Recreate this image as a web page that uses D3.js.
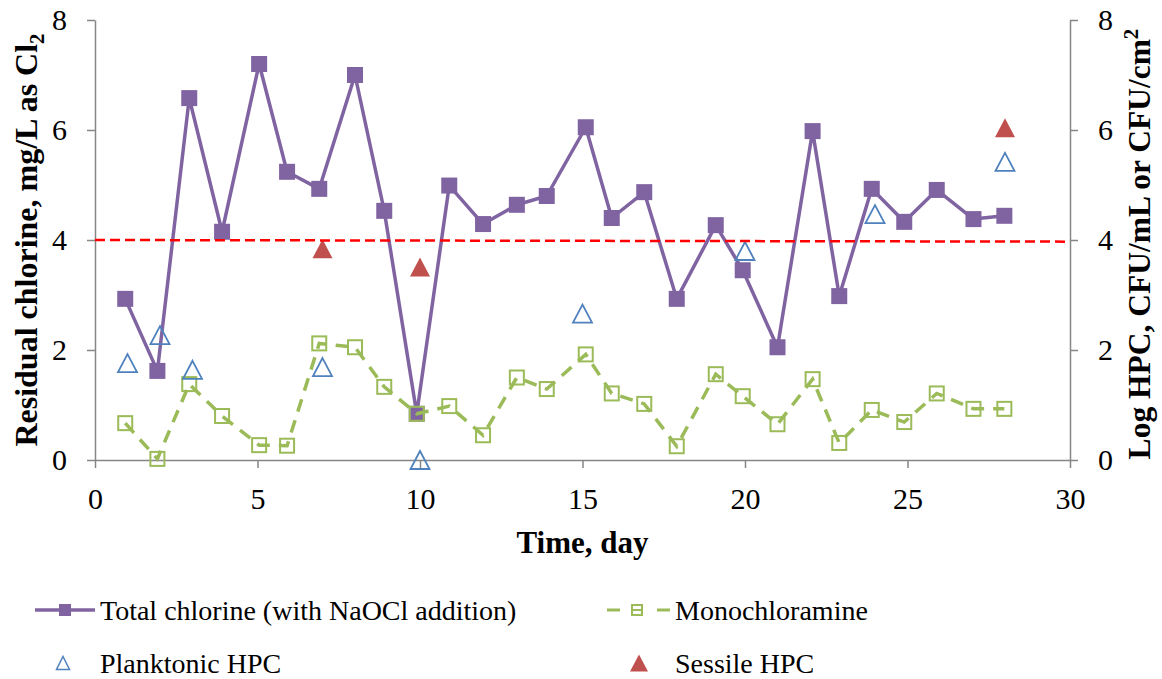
<!DOCTYPE html>
<html>
<head>
<meta charset="utf-8">
<script src="https://cdn.jsdelivr.net/npm/d3@7"></script>
<style>
  body { margin: 0; background: #fff; }
  svg text { font-family: "Liberation Serif", "Times New Roman", serif; fill: #000; }
</style>
</head>
<body>
<div id="chart"></div>
<script>
// sampling days for the chlorine series
const chlorineDays = [0.93, 1.92, 2.9, 3.91, 5.05, 5.91, 6.9, 8.0, 8.9, 9.9, 10.9, 11.94, 12.98, 13.9,
  15.1, 15.9, 16.9, 17.9, 19.1, 19.93, 21.0, 22.08, 22.9, 23.9, 24.9, 25.9, 27.03, 27.98];
const totalChlorine = [2.93, 1.62, 6.58, 4.15, 7.2, 5.24, 4.93, 7.0, 4.53, 0.84, 4.99, 4.29, 4.64, 4.8,
  6.05, 4.4, 4.87, 2.93, 4.27, 3.45, 2.05, 5.98, 2.98, 4.93, 4.33, 4.91, 4.38, 4.44];
const monochloramine = [0.67, 0.02, 1.38, 0.8, 0.27, 0.26, 2.12, 2.05, 1.33, 0.84, 0.98, 0.45, 1.5, 1.29,
  1.92, 1.21, 1.02, 0.25, 1.56, 1.16, 0.65, 1.47, 0.31, 0.91, 0.69, 1.21, 0.93, 0.93];

const planktonicDays = [1, 2, 3, 7, 10, 15, 20, 24, 28];
const planktonicHPC = [1.76, 2.27, 1.64, 1.69, 0, 2.66, 3.8, 4.47, 5.42];
const sessileDays = [7, 10, 28];
const sessileHPC = [3.84, 3.51, 6.04];

// hand drawn target line
const limitDays = [0, 30];
const limitValues = [4.0, 3.97];

const xTicks = [0, 5, 10, 15, 20, 25, 30];
const yTicks = [0, 2, 4, 6, 8];

const legendNames = ["Total chlorine (with NaOCl addition)", "Monochloramine", "Planktonic HPC", "Sessile HPC"];

const purple = "#8064A2", green = "#9BBB59", blue = "#4F81BD", red = "#C0504D", axisGrey = "#868686";

const margin = { top: 20, right: 92, bottom: 219, left: 95 },
    width = 1162 - margin.left - margin.right,
    height = 679 - margin.top - margin.bottom;

const svg = d3.select("#chart")
    .append("svg")
    .attr("width", 1162)
    .attr("height", 679);

const chart = svg.append("g")
    .attr("transform", `translate(${margin.left},${margin.top})`);

const x = d3.scaleLinear().domain([0, 30]).range([0, width]);
const y = d3.scaleLinear().domain([0, 8]).range([height, 0]);
const yRight = d3.scaleLinear().domain([0, 8]).range([height, 0]);

function styleAxis(g) {
    g.selectAll("path, line").attr("stroke", axisGrey).attr("stroke-width", 1.5);
    g.selectAll("text").attr("font-size", 30).style("font-family", "Liberation Serif");
}

// axes
chart.append("g")
    .attr("transform", `translate(0,${height})`)
    .call(d3.axisBottom(x).tickValues(xTicks).tickSize(8).tickSizeOuter(0).tickPadding(20))
    .call(styleAxis);

chart.append("g")
    .call(d3.axisLeft(y).tickValues(yTicks).tickSize(8).tickSizeOuter(0).tickPadding(20))
    .call(styleAxis);

chart.append("g")
    .attr("transform", `translate(${width},0)`)
    .call(d3.axisRight(yRight).tickValues(yTicks).tickSize(8).tickSizeOuter(0).tickPadding(20))
    .call(styleAxis);

// axis titles
const leftTitle = svg.append("text")
    .attr("transform", `translate(37,${margin.top + height / 2}) rotate(-90)`)
    .attr("text-anchor", "middle")
    .attr("font-size", 32)
    .attr("font-weight", "bold");
leftTitle.append("tspan").text("Residual chlorine, mg/L as Cl");
leftTitle.append("tspan").attr("font-size", 21).attr("dy", 7).text("2");

const rightTitle = svg.append("text")
    .attr("transform", `translate(1150,${margin.top + height / 2 + 4}) rotate(-90)`)
    .attr("text-anchor", "middle")
    .attr("font-size", 31.5)
    .attr("font-weight", "bold");
rightTitle.append("tspan").text("Log HPC, CFU/mL or CFU/cm");
rightTitle.append("tspan").attr("font-size", 21).attr("dy", -12).text("2");

svg.append("text")
    .attr("x", margin.left + width / 2)
    .attr("y", 553)
    .attr("text-anchor", "middle")
    .attr("font-size", 31)
    .attr("font-weight", "bold")
    .text("Time, day");

// series
const totalData = chlorineDays.map((d, i) => ({ day: d, value: totalChlorine[i] }));
const monoData = chlorineDays.map((d, i) => ({ day: d, value: monochloramine[i] }));
const plankData = planktonicDays.map((d, i) => ({ day: d, value: planktonicHPC[i] }));
const sessData = sessileDays.map((d, i) => ({ day: d, value: sessileHPC[i] }));

const line = d3.line().x(d => x(d.day)).y(d => y(d.value));

// triangle centred on its bounding box
function triangle(cx, cy, w, h) {
    return `M${cx},${cy - h / 2}L${cx + w / 2},${cy + h / 2}L${cx - w / 2},${cy + h / 2}Z`;
}

chart.append("path")
    .datum(totalData)
    .attr("fill", "none")
    .attr("stroke", purple)
    .attr("stroke-width", 3.5)
    .attr("stroke-linejoin", "round")
    .attr("d", line);

chart.selectAll(".totalMark")
    .data(totalData)
    .join("rect")
    .attr("x", d => x(d.day) - 8)
    .attr("y", d => y(d.value) - 8)
    .attr("width", 16)
    .attr("height", 16)
    .attr("fill", purple);

chart.append("path")
    .datum(monoData)
    .attr("fill", "none")
    .attr("stroke", green)
    .attr("stroke-width", 3.5)
    .attr("stroke-dasharray", "13,9")
    .attr("d", line);

chart.selectAll(".monoMark")
    .data(monoData)
    .join("rect")
    .attr("x", d => x(d.day) - 7)
    .attr("y", d => y(d.value) - 7)
    .attr("width", 14)
    .attr("height", 14)
    .attr("fill", "none")
    .attr("stroke", green)
    .attr("stroke-width", 2);

chart.selectAll(".plankMark")
    .data(plankData)
    .join("path")
    .attr("d", d => triangle(x(d.day), yRight(d.value), 19, 18))
    .attr("fill", "none")
    .attr("stroke", blue)
    .attr("stroke-width", 1.8);

chart.selectAll(".sessMark")
    .data(sessData)
    .join("path")
    .attr("d", d => triangle(x(d.day), yRight(d.value), 20, 19))
    .attr("fill", red);

// red dashed 4 mg/L line
chart.append("path")
    .datum(limitDays.map((d, i) => ({ day: d, value: limitValues[i] })))
    .attr("fill", "none")
    .attr("stroke", "#FF0000")
    .attr("stroke-width", 2.5)
    .attr("stroke-dasharray", "10,5")
    .attr("d", line);

// legend
const legend = svg.append("g");
const row1 = 610, row2 = 663;

legend.append("line").attr("x1", 35).attr("x2", 95).attr("y1", row1).attr("y2", row1)
    .attr("stroke", purple).attr("stroke-width", 3.5);
legend.append("rect").attr("x", 59).attr("y", row1 - 6).attr("width", 12).attr("height", 12).attr("fill", purple);
legend.append("text").attr("x", 100).attr("y", row1).attr("dy", "0.35em").attr("font-size", 28).text(legendNames[0]);

legend.append("line").attr("x1", 607).attr("x2", 670).attr("y1", row1).attr("y2", row1)
    .attr("stroke", green).attr("stroke-width", 3).attr("stroke-dasharray", "13,37");
legend.append("rect").attr("x", 632).attr("y", row1 - 5).attr("width", 10).attr("height", 10)
    .attr("fill", "none").attr("stroke", green).attr("stroke-width", 2);
legend.append("line").attr("x1", 633).attr("x2", 641).attr("y1", row1).attr("y2", row1)
    .attr("stroke", green).attr("stroke-width", 2);
legend.append("text").attr("x", 675).attr("y", row1).attr("dy", "0.35em").attr("font-size", 28).text(legendNames[1]);

legend.append("path").attr("d", triangle(63, row2, 13, 13))
    .attr("fill", "none").attr("stroke", blue).attr("stroke-width", 1.5);
legend.append("text").attr("x", 100).attr("y", row2).attr("dy", "0.35em").attr("font-size", 28).text(legendNames[2]);

legend.append("path").attr("d", triangle(639, row2, 18, 17)).attr("fill", red);
legend.append("text").attr("x", 675).attr("y", row2).attr("dy", "0.35em").attr("font-size", 28).text(legendNames[3]);
</script>
</body>
</html>
